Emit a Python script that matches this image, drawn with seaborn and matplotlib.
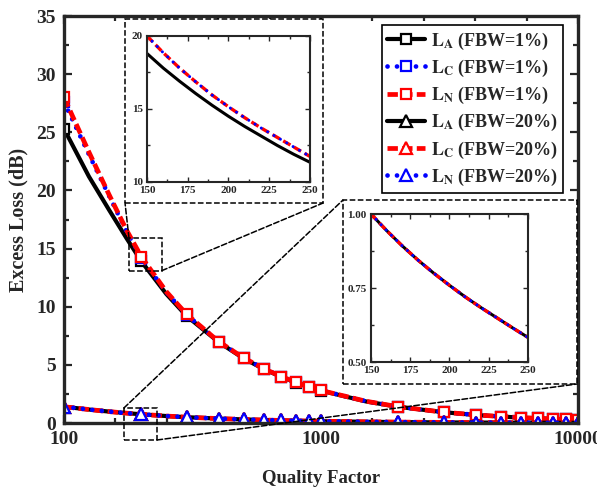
import numpy as np
import seaborn as sns
import matplotlib.pyplot as plt
from matplotlib.lines import Line2D
from matplotlib.patches import Rectangle, ConnectionPatch
from matplotlib.ticker import FixedLocator, MultipleLocator

# quality factor grid and excess loss (dB)
q = [100, 125, 150, 175, 200, 250, 300, 400, 500, 600, 700, 800, 900, 1000,
     1500, 2000, 3000, 4000, 5000, 6000, 7000, 8000, 9000, 10000]
la_1 = [25.3, 21.2, 18.3, 15.9, 13.9, 11.1, 9.2, 6.95, 5.55, 4.63, 3.97, 3.47, 3.09, 2.78,
        1.85, 1.39, 0.93, 0.69, 0.56, 0.46, 0.40, 0.35, 0.31, 0.28]
lc_1 = [27.6, 23.1, 19.5, 16.5, 14.2, 11.25, 9.3, 7.0, 5.6, 4.67, 4.0, 3.5, 3.11, 2.8,
        1.87, 1.4, 0.93, 0.7, 0.56, 0.47, 0.40, 0.35, 0.31, 0.28]
ln_1 = [28.0, 23.3, 19.6, 16.6, 14.3, 11.3, 9.35, 7.0, 5.6, 4.67, 4.0, 3.5, 3.11, 2.8,
        1.87, 1.4, 0.93, 0.7, 0.56, 0.47, 0.40, 0.35, 0.31, 0.28]
la_20 = [1.4, 1.16, 0.98, 0.85, 0.75, 0.60, 0.50, 0.38, 0.31, 0.26, 0.22, 0.19, 0.17, 0.155,
         0.105, 0.08, 0.053, 0.04, 0.032, 0.027, 0.023, 0.02, 0.018, 0.016]
lc_20 = la_20
ln_20 = la_20
marker_q = [100, 200, 300, 400, 500, 600, 700, 800, 900, 1000,
            2000, 3000, 4000, 5000, 6000, 7000, 8000, 9000, 10000]

# zoomed ranges
q_zoom = [150, 160, 170, 180, 190, 200, 210, 220, 230, 240, 250]
la_1_zoom = [18.8, 17.8, 16.9, 16.05, 15.25, 14.5, 13.8, 13.15, 12.5, 11.9, 11.35]
lcn_1_zoom = [20.0, 18.85, 17.8, 16.85, 15.95, 15.15, 14.4, 13.7, 13.05, 12.4, 11.75]
l_20_zoom = [1.0, 0.944, 0.892, 0.844, 0.800, 0.759, 0.720, 0.684, 0.650, 0.616, 0.583]

labels = [r'$\mathbf{L}_{\mathbf{A}}$ (FBW=1%)', r'$\mathbf{L}_{\mathbf{C}}$ (FBW=1%)',
          r'$\mathbf{L}_{\mathbf{N}}$ (FBW=1%)', r'$\mathbf{L}_{\mathbf{A}}$ (FBW=20%)',
          r'$\mathbf{L}_{\mathbf{C}}$ (FBW=20%)', r'$\mathbf{L}_{\mathbf{N}}$ (FBW=20%)']

sns.set_style("ticks")
plt.rcParams['font.family'] = ['Liberation Serif', 'DejaVu Serif']
plt.rcParams['font.weight'] = 'bold'
plt.rcParams['mathtext.fontset'] = 'stix'

BLUE = '#0000ff'
RED = '#ff0000'
solid = dict(color='black', lw=3.0, linestyle='-')
dots = dict(color=BLUE, lw=3.4, linestyle=(0, (0.01, 2.0)), dash_capstyle='round')
dash = dict(color=RED, lw=3.4, linestyle=(0, (2.2, 0.9)))

series = [
    (la_1, solid, 's', 'black'),
    (lc_1, dots, 's', BLUE),
    (ln_1, dash, 's', RED),
    (la_20, solid, '^', 'black'),
    (lc_20, dash, '^', RED),
    (ln_20, dots, '^', BLUE),
]

fig = plt.figure(figsize=(5.97, 4.90), dpi=100)
ax = fig.add_axes([0.1072, 0.1367, 0.861, 0.8306])
mk_idx = [i for i, v in enumerate(q) if v in marker_q]

for vals, style, mk, mcol in series:
    sns.lineplot(x=q, y=vals, ax=ax, errorbar=None, marker=mk, markevery=mk_idx,
                 ms=7.2 if mk == 's' else 8.5, mfc='white', mec=mcol, mew=1.6, **style)

ax.set_xscale('log')
ax.set_xlim(100, 10000)
ax.set_ylim(0, 35)
ax.set_xticks([100, 1000, 10000], ['100', '1000', '10000'])
ax.xaxis.set_minor_locator(FixedLocator([10 ** e for e in np.arange(2, 4.01, 0.2)]))
ax.xaxis.set_minor_formatter(plt.NullFormatter())
ax.yaxis.set_major_locator(MultipleLocator(5))
ax.yaxis.set_minor_locator(MultipleLocator(2.5))
ax.tick_params(which='both', direction='in', top=True, right=True, width=1.6,
               labelsize=14, pad=6)
ax.tick_params(which='major', length=6)
ax.tick_params(which='minor', length=3.5)
for s in ax.spines.values():
    s.set_linewidth(2.4)
ax.set_xlabel('Quality Factor', fontsize=13.5, fontweight='bold')
ax.set_ylabel('Excess Loss (dB)', fontsize=14.5, fontweight='bold')
ax.xaxis.set_label_coords(0.5, -0.115)
ax.yaxis.set_label_coords(-0.07, 0.5)

handles = []
for vals, style, mk, mcol in series:
    handles.append(Line2D([], [], marker=mk, ms=7 if mk == 's' else 8, mfc='white',
                          mec=mcol, mew=1.6, **style))
leg = ax.legend(handles, labels, loc='upper right', bbox_to_anchor=(0.971, 0.978),
                borderaxespad=0, fontsize=13, handlelength=2.1, handletextpad=0.3,
                labelspacing=0.34, borderpad=0.3, fancybox=False, framealpha=1,
                edgecolor='black')
leg.get_frame().set_linewidth(1.2)
for t in leg.get_texts():
    t.set_fontweight('bold')

# zoom boxes on main axes
ax.add_patch(Rectangle((179, 13.1), 240 - 179, 15.9 - 13.1, fill=False, ls='--',
                       lw=1.1, ec='black', zorder=5))
ax.add_patch(Rectangle((171, -1.46), 230 - 171, 1.29 + 1.46, fill=False, ls='--',
                       lw=1.1, ec='black', zorder=5, clip_on=False))

# inset frames (figure fraction)
frame1 = (0.2094, 0.5857, 0.3317, 0.3755)
frame2 = (0.5745, 0.2163, 0.392, 0.3755)
for fx, fy, fw, fh in (frame1, frame2):
    fig.add_artist(Rectangle((fx, fy), fw, fh, transform=fig.transFigure, fill=True,
                             fc='white', ec='black', ls='--', lw=1.1, zorder=1))

links = [((179, 15.9), (frame1[0], frame1[1])),
         ((240, 13.1), (frame1[0] + frame1[2], frame1[1])),
         ((171, 1.29), (frame2[0], frame2[1] + frame2[3])),
         ((230, -1.46), (frame2[0] + frame2[2], frame2[1]))]
for a, b in links:
    fig.add_artist(ConnectionPatch(a, b, coordsA=ax.transData, coordsB=fig.transFigure,
                                   ls='--', lw=1.1, color='black', zorder=1.5))

# inset axes
in_solid = dict(color='black', lw=2.2, linestyle='-')
in_dash = dict(color=RED, lw=2.4, linestyle=(0, (2.5, 1.2)))
in_dots = dict(color=BLUE, lw=2.2, linestyle=(0, (0.01, 2.4)), dash_capstyle='round')

ax1 = fig.add_axes([0.2462, 0.6286, 0.273, 0.298], zorder=3)
sns.lineplot(x=q_zoom, y=la_1_zoom, ax=ax1, errorbar=None, **in_solid)
sns.lineplot(x=q_zoom, y=lcn_1_zoom, ax=ax1, errorbar=None, **in_dash)
sns.lineplot(x=q_zoom, y=lcn_1_zoom, ax=ax1, errorbar=None, **in_dots)
ax1.set_xlim(150, 250)
ax1.set_ylim(10, 20)
ax1.set_xticks([150, 175, 200, 225, 250])
ax1.set_yticks([10, 15, 20])
ax1.yaxis.set_minor_locator(MultipleLocator(2.5))
ax1.xaxis.set_minor_locator(MultipleLocator(12.5))

ax2 = fig.add_axes([0.6214, 0.2612, 0.263, 0.302], zorder=3)
sns.lineplot(x=q_zoom, y=l_20_zoom, ax=ax2, errorbar=None, **in_solid)
sns.lineplot(x=q_zoom, y=l_20_zoom, ax=ax2, errorbar=None, **in_dash)
sns.lineplot(x=q_zoom, y=l_20_zoom, ax=ax2, errorbar=None, **in_dots)
ax2.set_xlim(150, 250)
ax2.set_ylim(0.5, 1.0)
ax2.set_xticks([150, 175, 200, 225, 250])
ax2.set_yticks([0.5, 0.75, 1.0], ['0.50', '0.75', '1.00'])
ax2.yaxis.set_minor_locator(MultipleLocator(0.125))
ax2.xaxis.set_minor_locator(MultipleLocator(12.5))

for a in (ax1, ax2):
    a.tick_params(which='both', direction='in', top=True, right=True, width=1.0,
                  labelsize=8, pad=3)
    a.tick_params(which='major', length=3.5)
    a.tick_params(which='minor', length=2)
    for s in a.spines.values():
        s.set_linewidth(1.5)
    a.set_xlabel('')
    a.set_ylabel('')

fig.savefig('out.png', dpi=100)
